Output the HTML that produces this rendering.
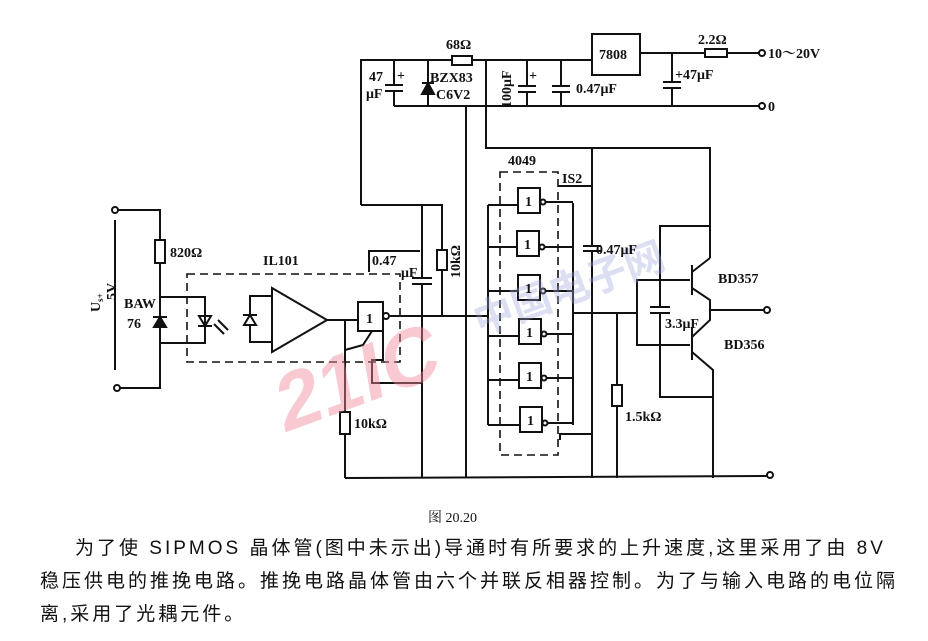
<!DOCTYPE html>
<html><head><meta charset="utf-8"><style>
body{margin:0;background:#fff;width:928px;height:641px;overflow:hidden}
svg{position:absolute;left:0;top:0}
.t{font-family:"Liberation Serif","Noto Serif CJK SC",serif;font-weight:bold;font-size:14px;fill:#111}
.p{position:absolute;font-family:"Liberation Sans","Noto Sans CJK SC",sans-serif;font-size:19px;color:#111;white-space:nowrap;letter-spacing:3px}
</style></head><body>
<svg width="928" height="641" viewBox="0 0 928 641">
<g stroke="#111" stroke-width="2" fill="none">
<polyline points="361,205 361,60 452,60"/><rect x="452" y="56" width="20" height="9"/>
<line x1="472" y1="60" x2="592" y2="60"/>
<rect x="592" y="34" width="48" height="41"/>
<line x1="640" y1="53" x2="705" y2="53"/><rect x="705" y="49" width="22" height="8"/><line x1="727" y1="53" x2="759" y2="53"/>
<circle cx="762" cy="53" r="3"/>
<line x1="394" y1="106" x2="759" y2="106"/><circle cx="762" cy="106" r="3"/>
<line x1="394" y1="60" x2="394" y2="85"/><line x1="385" y1="85" x2="403" y2="85"/><line x1="385" y1="91" x2="403" y2="91"/><line x1="394" y1="91" x2="394" y2="106"/>
<line x1="428" y1="60" x2="428" y2="106"/><polygon points="422,94 434,94 428,83" fill="#111"/><line x1="422" y1="83" x2="434" y2="83"/>
<line x1="527" y1="60" x2="527" y2="86"/><line x1="518" y1="86" x2="536" y2="86"/><line x1="518" y1="92" x2="536" y2="92"/><line x1="527" y1="92" x2="527" y2="106"/>
<line x1="561" y1="60" x2="561" y2="86"/><line x1="552" y1="86" x2="570" y2="86"/><line x1="552" y1="92" x2="570" y2="92"/><line x1="561" y1="92" x2="561" y2="106"/>
<line x1="672" y1="53" x2="672" y2="82"/><line x1="663" y1="82" x2="681" y2="82"/><line x1="663" y1="88" x2="681" y2="88"/><line x1="672" y1="88" x2="672" y2="106"/>
<polyline points="486,60 486,148 710,148 710,258"/>
<line x1="466" y1="106" x2="466" y2="478"/>
<polyline points="361,205 442,205 442,250"/><rect x="437" y="250" width="10" height="20"/><line x1="442" y1="270" x2="442" y2="316"/>
<line x1="422" y1="205" x2="422" y2="278"/><line x1="412" y1="278" x2="432" y2="278"/><line x1="412" y1="284" x2="432" y2="284"/><line x1="422" y1="284" x2="422" y2="478"/>
<polyline points="369,272 369,251 420,251"/>
<line x1="592" y1="148" x2="592" y2="246"/><line x1="583" y1="246" x2="601" y2="246"/><line x1="583" y1="251" x2="601" y2="251"/><line x1="592" y1="251" x2="592" y2="478"/>
<line x1="558" y1="186" x2="592" y2="186"/>
<line x1="345" y1="478" x2="767" y2="476"/><circle cx="770" cy="475" r="3"/>
<line x1="390" y1="316" x2="488" y2="316"/>
<line x1="488" y1="205" x2="488" y2="425"/><line x1="573" y1="203" x2="573" y2="425"/>
<line x1="573" y1="313" x2="637" y2="313"/>
<polyline points="560,440 560,434 592,434"/>
<line x1="617" y1="313" x2="617" y2="385"/><rect x="612" y="385" width="10" height="21"/><line x1="617" y1="406" x2="617" y2="478"/>
<polyline points="690,280 637,280 637,345 690,345"/>
<line x1="692" y1="265" x2="692" y2="295"/><line x1="692" y1="327" x2="692" y2="360"/>
<polyline points="692,272 710,258"/><polyline points="692,288 710,300 710,320 692,337"/>
<polyline points="692,352 713,370 713,478"/>
<line x1="710" y1="310" x2="764" y2="310"/><circle cx="767" cy="310" r="3"/>
<polyline points="710,226 660,226 660,307"/><line x1="650" y1="307" x2="670" y2="307"/><line x1="650" y1="313" x2="670" y2="313"/><polyline points="660,313 660,397 713,397"/>
<circle cx="115" cy="210" r="3"/><circle cx="117" cy="388" r="3"/>
<polyline points="118,210 160,210 160,240"/><rect x="155" y="240" width="10" height="23"/><polyline points="160,263 160,388 120,388"/>
<line x1="115" y1="220" x2="115" y2="370"/>
<polyline points="160,297 205,297 205,343 160,343"/>
<polygon points="154,327 166,327 160,317" fill="#111"/><line x1="153" y1="317" x2="167" y2="317"/>
<polygon points="199,316 211,316 205,326" fill="none"/><line x1="198" y1="326" x2="212" y2="326"/>
<line x1="214" y1="324" x2="224" y2="334"/><line x1="218" y1="320" x2="228" y2="330"/>
<polyline points="272,296 250,296 250,342 272,342"/>
<polygon points="244,325 256,325 250,315" fill="#fff"/><line x1="243" y1="315" x2="257" y2="315"/>
<polygon points="272,288 272,352 327,320"/>
<line x1="327" y1="320" x2="358" y2="320"/>
<rect x="358" y="302" width="25" height="29"/><circle cx="386" cy="316" r="3"/>
<polyline points="345,320 345,412"/><rect x="340" y="412" width="10" height="22"/><polyline points="345,434 345,478"/>
<polyline points="372,331 363,345 345,350"/>
<polyline points="422,383 372,383 372,360 383,360 383,331"/>
</g>
<g stroke="#111" stroke-width="1.6" fill="none" stroke-dasharray="8,5">
<rect x="187" y="274" width="213" height="88"/>
<rect x="500" y="172" width="58" height="283"/>
</g>
<g stroke="#111" stroke-width="2" fill="#fff">
<rect x="518" y="188" width="22" height="25"/><rect x="517" y="231" width="22" height="25"/><rect x="518" y="275" width="22" height="25"/>
<rect x="519" y="319" width="22" height="25"/><rect x="519" y="363" width="22" height="25"/><rect x="520" y="407" width="22" height="25"/>
<circle cx="543" cy="202" r="2.5"/><circle cx="542" cy="247" r="2.5"/><circle cx="543" cy="291" r="2.5"/><circle cx="544" cy="334" r="2.5"/><circle cx="544" cy="378" r="2.5"/><circle cx="545" cy="423" r="2.5"/>
</g>
<g stroke="#111" stroke-width="2">
<line x1="488" y1="205" x2="518" y2="205"/><line x1="546" y1="202" x2="573" y2="202"/>
<line x1="488" y1="247" x2="517" y2="247"/><line x1="545" y1="247" x2="573" y2="247"/>
<line x1="488" y1="291" x2="518" y2="291"/><line x1="546" y1="291" x2="573" y2="291"/>
<line x1="488" y1="336" x2="519" y2="336"/><line x1="547" y1="334" x2="573" y2="334"/>
<line x1="488" y1="380" x2="519" y2="380"/><line x1="547" y1="378" x2="573" y2="378"/>
<line x1="488" y1="425" x2="520" y2="425"/><line x1="548" y1="423" x2="573" y2="423"/>
</g>
<text x="330" y="395" transform="rotate(-20 380 350) skewX(-10)" style="font-family:'Liberation Sans',sans-serif;font-weight:bold;font-size:80px;fill:#f08a9a;opacity:0.45">21IC</text>
<text x="470" y="320" transform="rotate(-20 520 300)" style="font-family:'Liberation Sans','Noto Sans CJK SC',sans-serif;font-weight:bold;font-size:40px;fill:#9aa6d8;opacity:0.35">中国电子网</text>
<text class="t" x="446" y="49">68Ω</text>
<text class="t" x="599" y="59">7808</text>
<text class="t" x="698" y="44">2.2Ω</text>
<text class="t" x="768" y="58">10～20V</text>
<text class="t" x="768" y="111">0</text>
<text class="t" x="369" y="81">47</text><text class="t" x="366" y="98">μF</text><text class="t" x="397" y="80">+</text>
<text class="t" x="430" y="82">BZX83</text><text class="t" x="436" y="99">C6V2</text>
<text class="t" x="0" y="0" transform="translate(511,108) rotate(-90)">100μF</text><text class="t" x="529" y="80">+</text>
<text class="t" x="576" y="93">0.47μF</text>
<text class="t" x="675" y="79">+47μF</text>
<text class="t" x="508" y="165">4049</text>
<text class="t" x="562" y="183">IS2</text>
<text class="t" x="596" y="254">0.47μF</text>
<text class="t" x="718" y="283">BD357</text>
<text class="t" x="724" y="349">BD356</text>
<text class="t" x="665" y="328">3.3μF</text>
<text class="t" x="625" y="421">1.5kΩ</text>
<text class="t" x="170" y="257">820Ω</text>
<text class="t" x="263" y="265">IL101</text>
<text class="t" x="372" y="265">0.47</text><text class="t" x="401" y="277">μF</text>
<text class="t" x="0" y="0" transform="translate(460,278) rotate(-90)">10kΩ</text>
<text class="t" x="124" y="308">BAW</text><text class="t" x="127" y="328">76</text>
<text class="t" x="354" y="428">10kΩ</text>
<text class="t" x="366" y="323">1</text><text class="t" x="525" y="206">1</text><text class="t" x="524" y="249">1</text><text class="t" x="525" y="293">1</text><text class="t" x="526" y="337">1</text><text class="t" x="526" y="381">1</text><text class="t" x="527" y="425">1</text>
<text class="t" x="0" y="0" transform="translate(100,312) rotate(-90)">U<tspan font-size="9" dy="3">s+</tspan></text>
<text class="t" x="0" y="0" transform="translate(116,300) rotate(-90)">5V</text>
<text class="t" x="428" y="522" style="font-weight:normal">图 20.20</text>
</svg>
<div class="p" style="left:75px;top:533px">为了使 SIPMOS 晶体管(图中未示出)导通时有所要求的上升速度,这里采用了由 8V</div>
<div class="p" style="left:40px;top:566px">稳压供电的推挽电路。推挽电路晶体管由六个并联反相器控制。为了与输入电路的电位隔</div>
<div class="p" style="left:40px;top:599px">离,采用了光耦元件。</div>
</body></html>
